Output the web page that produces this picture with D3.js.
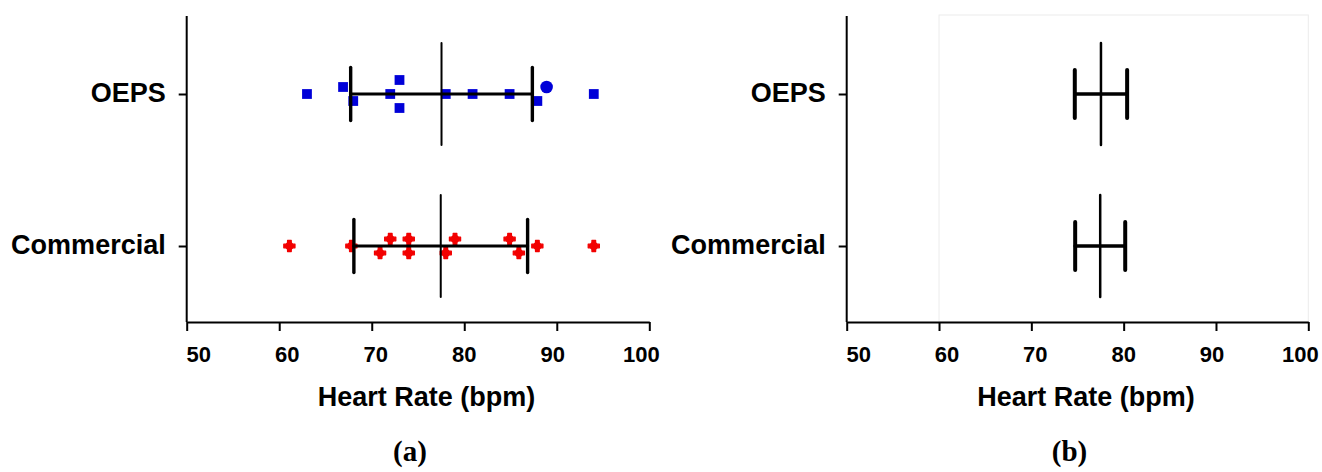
<!DOCTYPE html>
<html>
<head>
<meta charset="utf-8">
<script src="https://cdn.jsdelivr.net/npm/d3@7"></script>
<style>
  html, body { margin: 0; padding: 0; background: #fff; }
  svg { display: block; }
  text { font-family: "Liberation Sans", Arial, sans-serif; font-weight: bold; fill: #000; }
  .panel-tag { font-family: "Liberation Serif", "Times New Roman", serif; }
</style>
</head>
<body>
<svg id="chart" width="1322" height="472"></svg>
<script>
// Heart rate of each subject, as recorded by the two devices
const categories = ["OEPS", "Commercial"];
const oepsRates = [63.0, 66.9, 68.0, 72.0, 73.0, 73.0, 78.0, 80.9, 84.9, 88.9, 87.9, 94.0];
const commercialRates = [61.1, 67.8, 72.0, 70.9, 74.0, 74.0, 79.0, 78.0, 84.9, 85.9, 87.9, 94.0];
const xTicks = [50, 60, 70, 80, 90, 100];
const xDomain = [50, 100];
const axisTitle = "Heart Rate (bpm)";
const panelTags = ["(a)", "(b)"];
// OEPS subject drawn with a round marker
const oepsRoundSubject = 9;

const series = { "OEPS": oepsRates, "Commercial": commercialRates };
const colours = { "OEPS": "#0000d8", "Commercial": "#f20000" };

const svg = d3.select("#chart");
const plotTop = 16, plotBottom = 322;

// Spread points with overlapping values vertically (simple beeswarm)
function swarm(values, x, gap, step) {
  const order = d3.range(values.length).sort((a, b) => values[a] - values[b] || a - b);
  const offsets = new Array(values.length).fill(0);
  let cluster = [];
  const flush = () => {
    const members = cluster.slice().sort((a, b) => a - b);
    const n = members.length;
    members.forEach((idx, k) => {
      let slot;
      if (n % 2) slot = k === 0 ? 0 : Math.ceil(k / 2) * (k % 2 ? -1 : 1);
      else { const r = Math.floor(k / 2) + 0.5; slot = k % 2 ? r : -r; }
      offsets[idx] = slot * step;
    });
    cluster = [];
  };
  order.forEach((idx, i) => {
    if (i > 0 && x(values[idx]) - x(values[order[i - 1]]) >= gap) flush();
    cluster.push(idx);
  });
  flush();
  return offsets;
}

function drawPanel(left, right, withPoints, spread, tag, framed) {
  const g = svg.append("g");
  const x = d3.scaleLinear().domain(xDomain).range([left, right]);
  const y = d3.scalePoint().domain(categories).range([18, 322]).padding(0.5);
  // tick labels sit slightly inside the outer ticks
  const xl = d3.scaleLinear().domain(xDomain).range([left + 11.5, right - 8.5]);

  if (framed) {
    g.append("rect")
      .attr("x", x(60)).attr("y", plotTop - 1)
      .attr("width", x(100) - x(60)).attr("height", plotBottom - plotTop + 1)
      .attr("fill", "none").attr("stroke", "#ececec").attr("stroke-width", 1);
  }

  // x axis
  const gx = g.append("g")
    .attr("transform", `translate(0,${plotBottom})`)
    .call(d3.axisBottom(x).tickValues(xTicks).tickSize(9).tickSizeOuter(0).tickPadding(0));
  gx.select(".domain").attr("stroke", "#000").attr("stroke-width", 2);
  gx.selectAll(".tick line").attr("stroke", "#000").attr("stroke-width", 2);
  gx.selectAll(".tick text")
    .attr("x", d => xl(d) - x(d))
    .attr("y", 39.5).attr("dy", 0)
    .style("font-size", "22px");

  // y axis
  const gy = g.append("g")
    .attr("transform", `translate(${left},0)`)
    .call(d3.axisLeft(y).tickSize(8).tickSizeOuter(0).tickPadding(13));
  gy.select(".domain").attr("d", `M0,${plotTop}V${plotBottom}`)
    .attr("stroke", "#000").attr("stroke-width", 2);
  gy.selectAll(".tick line").attr("stroke", "#000").attr("stroke-width", 2);
  gy.selectAll(".tick text").attr("dy", "0.27em").style("font-size", "27px");

  // axis title
  g.append("text")
    .attr("x", (left + right) / 2 + 8.5).attr("y", 406)
    .attr("text-anchor", "middle").style("font-size", "27px")
    .text(axisTitle);

  g.append("text").attr("class", "panel-tag")
    .attr("x", (left + right) / 2 - 8).attr("y", 461)
    .attr("text-anchor", "middle").style("font-size", "29px")
    .text(tag);

  categories.forEach(cat => {
    const vals = series[cat];
    const cy = y(cat);
    const mean = d3.mean(vals);
    const sd = d3.deviation(vals);
    const err = spread === "sd" ? sd : sd / Math.sqrt(vals.length);

    if (withPoints) {
      const offs = swarm(vals, x, 12, 14);
      const pts = g.append("g");
      vals.forEach((v, i) => {
        const px = x(v), py = cy + offs[i];
        if (cat === "OEPS") {
          if (i === oepsRoundSubject) {
            pts.append("circle").attr("cx", px).attr("cy", py).attr("r", 6.3)
              .attr("fill", colours[cat]);
          } else {
            pts.append("path").attr("d", d3.symbol(d3.symbolSquare, 96)())
              .attr("transform", `translate(${px},${py})`)
              .attr("fill", colours[cat]);
          }
        } else {
          pts.append("path").attr("d", d3.symbol(d3.symbolCross, 70)())
            .attr("transform", `translate(${px},${py})`)
            .attr("fill", colours[cat]).attr("stroke", colours[cat])
            .attr("stroke-width", 1.2).attr("stroke-linejoin", "round");
          pts.append("circle").attr("cx", px).attr("cy", py).attr("r", 4.3)
            .attr("fill", colours[cat]);
        }
      });
    }

    const capHalf = withPoints ? 26.5 : 24;
    const bar = g.append("g").attr("stroke", "#000").attr("stroke-linecap", "round");
    // mean
    bar.append("line")
      .attr("x1", x(mean)).attr("x2", x(mean))
      .attr("y1", cy - 51).attr("y2", cy + 51)
      .attr("stroke-width", withPoints ? 2 : 2.5);
    // whisker span
    bar.append("line")
      .attr("x1", x(mean - err)).attr("x2", x(mean + err))
      .attr("y1", cy).attr("y2", cy)
      .attr("stroke-width", withPoints ? 3.2 : 3.6);
    // caps
    [mean - err, mean + err].forEach(v => {
      bar.append("line")
        .attr("x1", x(v)).attr("x2", x(v))
        .attr("y1", cy - capHalf).attr("y2", cy + capHalf)
        .attr("stroke-width", withPoints ? 3.4 : 4);
    });
  });
}

// (a) individual readings with mean ± SD; (b) mean ± SEM
drawPanel(186.7, 649.3, true, "sd", panelTags[0], false);
drawPanel(846.7, 1308.3, false, "sem", panelTags[1], true);
</script>
</body>
</html>
